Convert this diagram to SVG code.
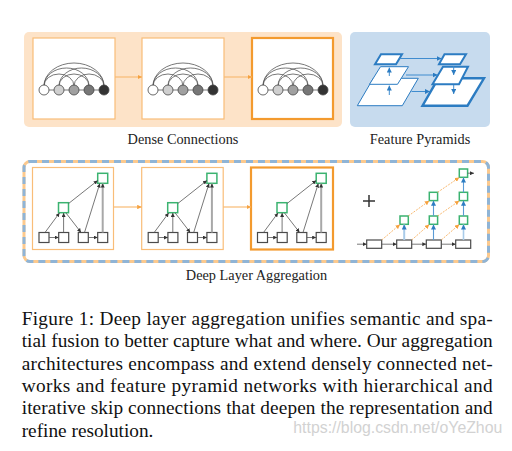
<svg xmlns="http://www.w3.org/2000/svg" xmlns:xlink="http://www.w3.org/1999/xlink" width="512" height="451" viewBox="0 0 512 451">
<style>
.bgo{fill:#fde3c8}
.bgb{fill:#c7dbee}
.pane{fill:#fff;stroke:#f9bd78;stroke-width:1.2}
.pane3{fill:#fff;stroke:#f39a2e;stroke-width:2.2}
.link{fill:none;stroke:#f9bb74;stroke-width:1.2}
.arc{fill:none;stroke:#555;stroke-width:0.8}
.cir{stroke:#444;stroke-width:0.8}
.sq{fill:#fff;stroke:#4a4a4a;stroke-width:1.2}
.gsq{fill:#fff;stroke:#3bb370;stroke-width:1.5}
.e{fill:none;stroke:#555;stroke-width:0.8}
.lab{font-family:"Liberation Serif","Times New Roman",serif;font-size:14.3px;fill:#222;text-anchor:middle}
.cap{font-family:"Liberation Serif","Times New Roman",serif;font-size:19.3px;fill:#111}
.pyr{fill:#fff;stroke:#2c7cc2;stroke-linejoin:miter}
.pa{fill:none;stroke:#3f8ccf;stroke-width:1}
.od{fill:none;stroke:#f6a64a;stroke-width:0.8;stroke-dasharray:2 1.2}
</style>
<defs>
<marker id="ad" viewBox="0 0 6 6" refX="6" refY="3" markerWidth="4" markerHeight="4" markerUnits="userSpaceOnUse" orient="auto"><path d="M0,0L6,3L0,6z" fill="#333"/></marker>
<marker id="ao" viewBox="0 0 6 6" refX="6" refY="3" markerWidth="4.5" markerHeight="4.5" markerUnits="userSpaceOnUse" orient="auto"><path d="M0,0L6,3L0,6z" fill="#f6a23f"/></marker>
<marker id="ab" viewBox="0 0 6 6" refX="6" refY="3" markerWidth="5" markerHeight="5" markerUnits="userSpaceOnUse" orient="auto"><path d="M0,0L6,3L0,6z" fill="#2c7cc2"/></marker>
<g id="dense">
<path class="arc" d="M44,86 A30 23 0 0 1 104,86 M44,86 A22.5 18 0 0 1 89,86 M59,86 A22.5 18 0 0 1 104,86 M44,86 A15 12 0 0 1 74,86 M59,86 A15 12 0 0 1 89,86 M74,86 A15 12 0 0 1 104,86"/>
<path class="arc" d="M44,90 H104"/>
<circle class="cir" cx="44" cy="90" r="5" fill="#fff"/>
<circle class="cir" cx="59" cy="90" r="5" fill="#cfcfcf"/>
<circle class="cir" cx="74" cy="90" r="5" fill="#a0a0a0"/>
<circle class="cir" cx="89" cy="90" r="5" fill="#777"/>
<circle class="cir" cx="104" cy="90" r="5" fill="#333"/>
</g>
<g id="dla">
<rect class="sq" x="39" y="232.5" width="10" height="10"/>
<rect class="sq" x="58.7" y="232.5" width="10" height="10"/>
<rect class="sq" x="78.3" y="232.5" width="10" height="10"/>
<rect class="sq" x="97.7" y="232.5" width="10" height="10"/>
<rect class="gsq" x="58.5" y="202.7" width="10" height="10"/>
<rect class="gsq" x="97.7" y="173.3" width="10" height="10"/>
<path class="e" marker-end="url(#ad)" d="M49,237.5 L58.7,237.5"/>
<path class="e" marker-end="url(#ad)" d="M88.3,237.5 L97.7,237.5"/>
<path class="e" marker-end="url(#ad)" d="M45,232.5 L59.5,212.9"/>
<path class="e" marker-end="url(#ad)" d="M63.6,232.5 L63.6,213"/>
<path class="e" marker-end="url(#ad)" d="M66,213 L81,232.4"/>
<path class="e" marker-end="url(#ad)" d="M68.6,203.5 L97.7,180.5"/>
<path class="e" marker-end="url(#ad)" d="M84.5,232.5 L99.8,183.5"/>
<path fill="none" stroke="#a8a8a8" stroke-width="2" marker-end="url(#ad)" d="M102.7,232.5 L102.7,183.6"/>
</g>
</defs>

<g id="dense-connections">
<rect class="bgo" x="24" y="32" width="318" height="95" rx="5"/>
<g id="dense-1"><rect class="pane" x="33" y="38" width="82" height="81"/><use xlink:href="#dense"/></g>
<g id="dense-2"><rect class="pane" x="142" y="38" width="82" height="81"/><use xlink:href="#dense" transform="translate(109,0)"/></g>
<g id="dense-3"><rect class="pane3" x="252" y="38" width="81" height="81"/><use xlink:href="#dense" transform="translate(219,0)"/></g>
<text class="lab" x="183" y="144">Dense Connections</text>
</g>

<g id="feature-pyramids">
<rect class="bgb" x="350" y="32" width="140" height="95" rx="5"/>
<polygon class="pyr" stroke-width="1" points="373.3,78.3 418.3,78.3 402.3,105.7 357.3,105.7"/>
<polygon class="pyr" stroke-width="1" points="380.5,66.7 408.5,66.7 397.5,84.3 369.5,84.3"/>
<polygon class="pyr" stroke-width="2" points="381,54.3 402,54.3 396,64.3 375,64.3"/>
<polygon class="pyr" stroke-width="2.4" points="438.3,78.3 484,78.3 467.5,105.7 422.5,105.7"/>
<polygon class="pyr" stroke-width="2" points="443,66.7 468,66.7 459,84.3 432.5,84.3"/>
<polygon class="pyr" stroke-width="2" points="444.5,54.3 466,54.3 460,64.3 439,64.3"/>
<path class="pa" marker-end="url(#ab)" d="M389.3,95 L389.3,85.5"/>
<path class="pa" marker-end="url(#ab)" d="M389.3,76 L389.3,67.5"/>
<path class="pa" marker-end="url(#ab)" d="M453.7,66 L453.7,75"/>
<path class="pa" marker-end="url(#ab)" d="M453.7,85 L453.7,94"/>
<path class="pa" marker-end="url(#ab)" d="M399.5,58.5 L441.5,58.5"/>
<path class="pa" marker-end="url(#ab)" d="M406,75 L437.7,75"/>
<path class="pa" marker-end="url(#ab)" d="M411.5,91.5 L430,91.5"/>
<text class="lab" x="420" y="144">Feature Pyramids</text>
</g>

<g id="deep-layer-aggregation">
<rect x="24" y="161.5" width="464.5" height="100" rx="6" fill="none" stroke="#fcc98d" stroke-width="3"/>
<rect x="24" y="161.5" width="464.5" height="100" rx="6" fill="none" stroke="#8fb4d6" stroke-width="3" stroke-dasharray="7 5"/>
<g id="dla-1"><rect class="pane" x="32.5" y="167.5" width="81" height="82"/><use xlink:href="#dla"/></g>
<g id="dla-2"><rect class="pane" x="141.7" y="167.5" width="81.5" height="82"/><use xlink:href="#dla" transform="translate(109.2,0)"/></g>
<g id="dla-3"><rect class="pane3" x="251" y="167.5" width="82" height="82"/><use xlink:href="#dla" transform="translate(218.5,0)"/></g>
<path d="M363,201 H375 M369,195 V207" stroke="#333" stroke-width="1.5" fill="none"/>
<g id="iterative">
<rect class="sq" x="366.7" y="240" width="15" height="8.3"/>
<rect class="sq" x="396.7" y="240" width="15" height="8.3"/>
<rect class="sq" x="426.3" y="240" width="15" height="8.3"/>
<rect class="sq" x="455.7" y="240" width="15" height="8.3"/>
<rect class="gsq" x="400" y="216" width="8.3" height="8.3"/>
<rect class="gsq" x="429.3" y="216" width="8.3" height="8.3"/>
<rect class="gsq" x="459.3" y="216" width="8.3" height="8.3"/>
<rect class="gsq" x="429.3" y="192.3" width="8.3" height="8.3"/>
<rect class="gsq" x="459.3" y="192.3" width="8.3" height="8.3"/>
<rect class="gsq" x="459.3" y="169" width="8.3" height="8.3"/>
</g>
</g>

<g id="connectors">
<path class="link" marker-end="url(#ao)" d="M115,77 L142,77"/>
<path class="link" marker-end="url(#ao)" d="M224,77 L252,77"/>
<path class="link" marker-end="url(#ao)" d="M113.5,207 L141.7,207"/>
<path class="link" marker-end="url(#ao)" d="M223.2,207 L251,207"/>
<path class="e" marker-end="url(#ad)" d="M357,244.2 L366.7,244.2"/>
<path class="e" marker-end="url(#ad)" d="M381.7,244.2 L396.7,244.2"/>
<path class="e" marker-end="url(#ad)" d="M411.7,244.2 L426.3,244.2"/>
<path class="e" marker-end="url(#ad)" d="M441.3,244.2 L455.7,244.2"/>
<path class="e" marker-end="url(#ad)" d="M467.6,173.2 L474,173.2"/>
<path fill="none" stroke="#a9cbe9" stroke-width="2" marker-end="url(#ab)" d="M404.2,240 L404.2,224.5"/>
<path fill="none" stroke="#5b9bd5" stroke-width="1.1" marker-end="url(#ab)" d="M433.5,240 L433.5,224.5"/>
<path fill="none" stroke="#a9cbe9" stroke-width="1.6" marker-end="url(#ab)" d="M463.5,240 L463.5,224.5"/>
<path fill="none" stroke="#5b9bd5" stroke-width="1.1" marker-end="url(#ab)" d="M433.5,216 L433.5,200.8"/>
<path fill="none" stroke="#5b9bd5" stroke-width="1.1" marker-end="url(#ab)" d="M463.5,216 L463.5,200.8"/>
<path fill="none" stroke="#5b9bd5" stroke-width="1.1" marker-end="url(#ab)" d="M463.5,192.3 L463.5,177.5"/>
<path class="od" marker-end="url(#ao)" d="M381.7,240 L400,224.5"/>
<path class="od" marker-end="url(#ao)" d="M411.7,240 L429.3,224.5"/>
<path class="od" marker-end="url(#ao)" d="M441.3,240 L459.3,224.5"/>
<path class="od" marker-end="url(#ao)" d="M408.3,216 L429.3,200.8"/>
<path class="od" marker-end="url(#ao)" d="M437.6,216 L459.3,200.8"/>
<path class="od" marker-end="url(#ao)" d="M437.6,192.3 L459.3,177.5"/>
</g>

<text class="lab" x="256.5" y="280">Deep Layer Aggregation</text>

<g id="caption">
<text class="cap" x="21.7" y="325" textLength="471" lengthAdjust="spacing">Figure 1: Deep layer aggregation unifies semantic and spa-</text>
<text class="cap" x="21.7" y="347.3" textLength="471" lengthAdjust="spacing">tial fusion to better capture what and where. Our aggregation</text>
<text class="cap" x="21.7" y="369.6" textLength="471" lengthAdjust="spacing">architectures encompass and extend densely connected net-</text>
<text class="cap" x="21.7" y="391.9" textLength="471" lengthAdjust="spacing">works and feature pyramid networks with hierarchical and</text>
<text class="cap" x="21.7" y="414.2" textLength="471" lengthAdjust="spacing">iterative skip connections that deepen the representation and</text>
<text class="cap" x="21.7" y="436.5">refine resolution.</text>
</g>
<text x="293.3" y="432.7" font-family="Liberation Sans, Arial, sans-serif" font-size="16" fill="#d2d2d2" textLength="209" lengthAdjust="spacingAndGlyphs">https://blog.csdn.net/oYeZhou</text>
</svg>
